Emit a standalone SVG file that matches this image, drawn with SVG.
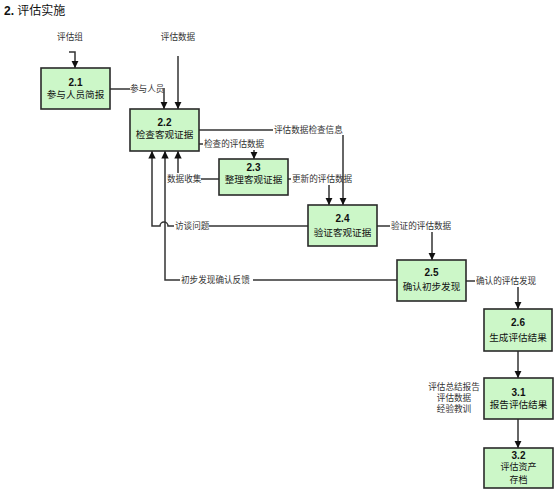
<svg xmlns="http://www.w3.org/2000/svg" width="560" height="494" viewBox="0 0 560 494">
<style>
.box{fill:#ccf7c8;stroke:#2a2a2a;stroke-width:1.6}
.num{font-family:"Liberation Sans",Arial,sans-serif;font-weight:bold;font-size:10px;fill:#111;text-anchor:middle}
.bt{font-family:"Noto Sans CJK SC",sans-serif;font-size:9.6px;fill:#111;text-anchor:middle}
.bs{font-family:"Noto Sans CJK SC",sans-serif;font-size:9px;fill:#111;text-anchor:middle}
.lb{font-family:"Noto Sans CJK SC",sans-serif;font-size:8.6px;fill:#333}
.ln{fill:none;stroke:#333;stroke-width:1.5}
</style>
<defs>
<marker id="ah" markerUnits="userSpaceOnUse" markerWidth="9" markerHeight="9" refX="7.5" refY="4.5" orient="auto">
<path d="M0,0.8 L7.5,4.5 L0,8.2 Z" fill="#111"/>
</marker>
</defs>
<rect width="560" height="494" fill="#fff"/>
<text x="4" y="15" style="font-family:'Liberation Sans','Noto Sans CJK SC',sans-serif;font-size:12px;fill:#111"><tspan font-weight="bold">2.</tspan> 评估实施</text>

<g id="connectors">
<text class="lb" x="70" y="40" text-anchor="middle">评估组</text>
<path class="ln" d="M69,52 H75 V68" marker-end="url(#ah)"/>
<text class="lb" x="178" y="40" text-anchor="middle">评估数据</text>
<path class="ln" d="M178,56 V109" marker-end="url(#ah)"/>
<path class="ln" d="M110,89 H130"/>
<text class="lb" x="130" y="92">参与人员</text>
<path class="ln" d="M164,88 V109" marker-end="url(#ah)"/>
<path class="ln" d="M199,130 H273"/>
<text class="lb" x="274" y="133">评估数据检查信息</text>
<path class="ln" d="M343,135 V205" marker-end="url(#ah)"/>
<path class="ln" d="M199,144 H203"/>
<text class="lb" x="204" y="147">检查的评估数据</text>
<path class="ln" d="M254,150 V159" marker-end="url(#ah)"/>
<path class="ln" d="M219,179 H201"/>
<text class="lb" x="167" y="182">数据收集</text>
<path class="ln" d="M178,173 V151" marker-end="url(#ah)"/>
<path class="ln" d="M288,179 H291"/>
<text class="lb" x="292" y="182">更新的评估数据</text>
<path class="ln" d="M329,185 V205" marker-end="url(#ah)"/>
<path class="ln" d="M308,226 H209"/>
<text class="lb" x="175" y="229">访谈问题</text>
<path class="ln" d="M174,226 H168 A4,4 0 0 0 160,226 H152 V151" marker-end="url(#ah)"/>
<path class="ln" d="M397,280 H253"/>
<text class="lb" x="181" y="283">初步发现确认反馈</text>
<path class="ln" d="M180,280 H165 V151" marker-end="url(#ah)"/>
<path class="ln" d="M377,226 H390"/>
<text class="lb" x="391" y="229">验证的评估数据</text>
<path class="ln" d="M432,232 V260" marker-end="url(#ah)"/>
<path class="ln" d="M466,281 H475"/>
<text class="lb" x="476" y="284">确认的评估发现</text>
<path class="ln" d="M518,287 V309" marker-end="url(#ah)"/>
<path class="ln" d="M518,351 V378" marker-end="url(#ah)"/>
<path class="ln" d="M518,419 V448" marker-end="url(#ah)"/>
<text class="lb" x="454" y="390" text-anchor="middle">评估总结报告</text>
<text class="lb" x="454" y="401" text-anchor="middle">评估数据</text>
<text class="lb" x="454" y="412" text-anchor="middle">经验教训</text>
</g>

<g id="n21"><rect class="box" x="41" y="68" width="69" height="41"/><text class="num" x="75.5" y="85.5">2.1</text><text class="bt" x="75.5" y="97.5">参与人员简报</text></g>
<g id="n22"><rect class="box" x="130" y="109" width="69" height="42"/><text class="num" x="164.5" y="125.5">2.2</text><text class="bt" x="164.5" y="137.5">检查客观证据</text></g>
<g id="n23"><rect class="box" x="219" y="159" width="69" height="36"/><text class="num" x="253.5" y="171">2.3</text><text class="bt" x="253.5" y="183">整理客观证据</text></g>
<g id="n24"><rect class="box" x="308" y="205" width="69" height="41"/><text class="num" x="342.5" y="222">2.4</text><text class="bt" x="342.5" y="236">验证客观证据</text></g>
<g id="n25"><rect class="box" x="397" y="260" width="69" height="41"/><text class="num" x="431.5" y="276">2.5</text><text class="bt" x="431.5" y="290">确认初步发现</text></g>
<g id="n26"><rect class="box" x="484" y="309" width="68" height="42"/><text class="num" x="518" y="326">2.6</text><text class="bt" x="518" y="341">生成评估结果</text></g>
<g id="n31"><rect class="box" x="484" y="378" width="69" height="41"/><text class="num" x="518.5" y="396">3.1</text><text class="bt" x="518.5" y="408">报告评估结果</text></g>
<g id="n32"><rect class="box" x="484" y="448" width="69" height="40"/><text class="num" x="518.5" y="459">3.2</text><text class="bs" x="518.5" y="470">评估资产</text><text class="bs" x="518.5" y="482.5">存档</text></g>
</svg>
